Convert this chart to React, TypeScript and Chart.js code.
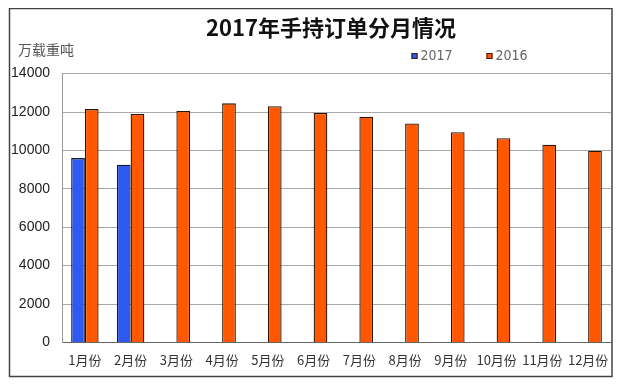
import React, { useEffect, useRef } from "react";
import { Chart, registerables } from "chart.js";

Chart.register(...registerables);

const months = ["1月份", "2月份", "3月份", "4月份", "5月份", "6月份", "7月份", "8月份", "9月份", "10月份", "11月份", "12月份"];
const values2017: (number | null)[] = [9600, 9250, null, null, null, null, null, null, null, null, null, null];
const values2016 = [12150, 11900, 12050, 12450, 12300, 11950, 11750, 11400, 10950, 10630, 10300, 9980];
const titleText = "2017年手持订单分月情况";
const unitText = "万载重吨";

const decor = {
  id: "decor",
  afterDraw(chart: any) {
    const ctx = chart.ctx;
    ctx.save();
    // frame
    ctx.strokeStyle = "#444";
    ctx.lineWidth = 1.5;
    ctx.strokeRect(1.5, 0.5, 602.5, 368);
    // title
    ctx.fillStyle = "#111";
    ctx.font = 'bold 22px "Noto Sans CJK SC", sans-serif';
    ctx.textAlign = "center";
    ctx.textBaseline = "middle";
    ctx.fillText(titleText, 323, 20);
    // unit
    ctx.fillStyle = "#555";
    ctx.font = '14px "Noto Sans CJK SC", sans-serif';
    ctx.textAlign = "left";
    ctx.fillText(unitText, 10, 42);
    // legend
    const xs = [403.5, 478.5];
    chart.data.datasets.forEach((ds: any, i: number) => {
      const x = xs[i];
      ctx.fillStyle = ds.backgroundColor;
      ctx.fillRect(x, 45, 6, 6);
      ctx.strokeStyle = "#222";
      ctx.lineWidth = 1;
      ctx.strokeRect(x + 0.5, 45.5, 5, 5);
      ctx.fillStyle = "#666";
      ctx.font = '14px "Liberation Sans Narrow", "DejaVu Sans Condensed", sans-serif';
      ctx.textAlign = "left";
      ctx.fillText(ds.label, x + 9, 48.5);
    });
    ctx.restore();
  },
};

export default function App() {
  const ref = useRef<HTMLCanvasElement>(null);
  useEffect(() => {
    if (!ref.current) return;
    const chart = new Chart(ref.current, {
      type: "bar",
      data: {
        labels: months,
        datasets: [
          {
            label: "2017",
            data: values2017,
            backgroundColor: "#2f5af2",
            borderColor: "#141830",
            borderWidth: 1.3,
          },
          {
            label: "2016",
            data: values2016,
            backgroundColor: "#ff5800",
            borderColor: "#2e1300",
            borderWidth: 1.3,
          },
        ],
      },
      options: {
        animation: false,
        responsive: false,
        maintainAspectRatio: false,
        layout: { padding: { top: 65.6, left: 0, right: 7, bottom: 0 } },
        datasets: { bar: { categoryPercentage: 0.6, barPercentage: 1.0 } },
        plugins: {
          legend: { display: false },
          title: { display: false },
          tooltip: { enabled: false },
        },
        scales: {
          x: {
            grid: { display: false },
            border: { display: true, color: "#666", width: 1 },
            ticks: {
              padding: 2,
              color: "#333",
              font: { family: '"Noto Sans CJK SC", sans-serif', size: 13 },
              maxRotation: 0,
              autoSkip: false,
            },
            afterFit(scale: any) {
              scale.height = 37.6;
            },
          },
          y: {
            min: 0,
            max: 14000,
            ticks: {
              stepSize: 2000,
              padding: 12,
              color: "#222",
              font: { family: '"Liberation Sans", Arial, sans-serif', size: 14 },
              callback: (v: any) => String(v),
            },
            grid: { color: "#a8a8a8", lineWidth: 1, drawTicks: false },
            border: { display: true, color: "#999", width: 1 },
            afterFit(scale: any) {
              scale.width = 54;
            },
          },
        },
      },
      plugins: [decor],
    });
    return () => chart.destroy();
  }, []);
  return (
    <div style={{ width: 610, height: 372 }}>
      <canvas ref={ref} width={610} height={372} style={{ display: "block" }} />
    </div>
  );
}
